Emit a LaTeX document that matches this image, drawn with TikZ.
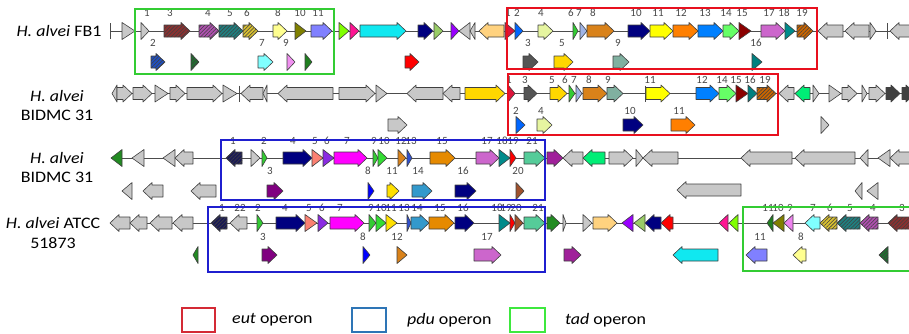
\documentclass[tikz,border=0pt]{standalone}
\usepackage{fontspec}
\setmainfont{Carlito}
\newfontfamily\widefont[FakeStretch=1.12]{Carlito}
\usetikzlibrary{patterns.meta}
\definecolor{ggray}{HTML}{C8C8C8}
\definecolor{brn}{HTML}{8B3030}
\definecolor{mag}{HTML}{B050B0}
\definecolor{tealh}{HTML}{1F8080}
\definecolor{yelh}{HTML}{D8C030}
\definecolor{lyel}{HTML}{FFFF90}
\definecolor{olive}{HTML}{808000}
\definecolor{lav}{HTML}{8080FF}
\definecolor{blueh}{HTML}{1F4FBF}
\definecolor{dgreenh}{HTML}{1F6F2F}
\definecolor{lcyan}{HTML}{80FFFF}
\definecolor{lpink}{HTML}{F090F0}
\definecolor{dgreen}{HTML}{1F7F1F}
\definecolor{lime}{HTML}{80FF00}
\definecolor{dpink}{HTML}{FF1493}
\definecolor{cyn}{HTML}{10E8F0}
\definecolor{navy}{HTML}{000080}
\definecolor{lolive}{HTML}{99CC66}
\definecolor{purp}{HTML}{9900FF}
\definecolor{red}{HTML}{FF0000}
\definecolor{lorange}{HTML}{FFD27F}
\definecolor{crim}{HTML}{DC143C}
\definecolor{blue2}{HTML}{0066FF}
\definecolor{dgray}{HTML}{555555}
\definecolor{gold}{HTML}{FFD700}
\definecolor{pyel}{HTML}{E6F5A0}
\definecolor{green3}{HTML}{33CC33}
\definecolor{lblue}{HTML}{A0B4E6}
\definecolor{obrown}{HTML}{D9821A}
\definecolor{yellow}{HTML}{FFFF00}
\definecolor{orng}{HTML}{FF7F00}
\definecolor{azure}{HTML}{0080FF}
\definecolor{lgreen}{HTML}{66FF66}
\definecolor{dred}{HTML}{8B0000}
\definecolor{orchid}{HTML}{CC66CC}
\definecolor{teal}{HTML}{008B8B}
\definecolor{tealg}{HTML}{80B0A0}
\definecolor{teal2}{HTML}{008080}
\definecolor{obrh}{HTML}{CC6600}
\definecolor{spring}{HTML}{00EE76}
\definecolor{dgrh}{HTML}{404040}
\definecolor{fgreen}{HTML}{228B22}
\definecolor{dnavy}{HTML}{1A1A55}
\definecolor{salmon}{HTML}{FA8072}
\definecolor{violet}{HTML}{8A2BE2}
\definecolor{magenta}{HTML}{FF00FF}
\definecolor{green4}{HTML}{33DD33}
\definecolor{steel}{HTML}{3399CC}
\definecolor{aqua}{HTML}{55CC99}
\definecolor{plum}{HTML}{A0209A}
\definecolor{brown2}{HTML}{A0522D}
\definecolor{purple2}{HTML}{800080}
\definecolor{blue3}{HTML}{0000FF}
\definecolor{yellow2}{HTML}{FFE000}
\definecolor{orange2}{HTML}{E68A00}
\definecolor{blue13}{HTML}{3050D0}
\definecolor{violetpink}{HTML}{EE82EE}
\definecolor{tadG}{HTML}{33CC33}
\definecolor{eutR}{HTML}{E8101E}
\definecolor{pduB}{HTML}{1F1FCF}
\definecolor{legR}{HTML}{D42A35}
\definecolor{legB}{HTML}{2E75B6}
\definecolor{legG}{HTML}{3EE83E}
\newcounter{lbc}
\newcommand\gR[5][]{%
  \pgfmathsetmacro\gx{#3-min(9,#3-#2)}%
  \draw[gene,fill=#5,#1] (#2,#4-6) -- (\gx,#4-6) -- (\gx,#4-8.5) -- (#3,#4) -- (\gx,#4+8.5) -- (\gx,#4+6) -- (#2,#4+6) -- cycle;}
\newcommand\gL[5][]{%
  \pgfmathsetmacro\gx{#2+min(9,#3-#2)}%
  \draw[gene,fill=#5,#1] (#3,#4-6) -- (\gx,#4-6) -- (\gx,#4-8.5) -- (#2,#4) -- (\gx,#4+8.5) -- (\gx,#4+6) -- (#3,#4+6) -- cycle;}
\newcommand\tR[5][]{\draw[gene,fill=#5,#1] (#2,#4-8.5) -- (#3,#4) -- (#2,#4+8.5) -- cycle;}
\newcommand\tL[5][]{\draw[gene,fill=#5,#1] (#3,#4-8.5) -- (#2,#4) -- (#3,#4+8.5) -- cycle;}
\newcommand\tk[2]{\draw[bb] (#1,#2-8) -- (#1,#2+8);}
\newcommand\lb[3]{\stepcounter{lbc}\node[lbl] (lb\arabic{lbc}) at (#1,#2) {#3};}
\begin{document}
\begin{tikzpicture}[x=1pt,y=-1pt,
  gene/.style={draw=black!75,line width=0.6pt,line join=round},
  hatch/.style={postaction={pattern={Lines[angle=45,distance=2.6pt,line width=0.55pt]},pattern color=black!75}},
  bb/.style={draw=black!70,line width=0.8pt},
  lbl/.style={font=\fontsize{11}{11}\selectfont,text=black!72,inner sep=0pt},
  sp/.style={font=\widefont\fontsize{16}{19.5}\selectfont,align=center,inner sep=0pt},
  opbox/.style={line width=2.6pt},
  legbox/.style={line width=1.6pt},
  legt/.style={font=\widefont\fontsize{16}{18}\selectfont,anchor=west,inner sep=0pt}]
\useasboundingbox (0,0) rectangle (909,333);
\fill[white] (0,0) rectangle (909,333);
% species labels
\node[sp] (s1) at (59,31) {\textit{H. alvei} FB1};
\node[sp] (s2) at (57,105.5) {\textit{H. alvei}\\BIDMC 31};
\node[sp] (s3) at (57,167.5) {\textit{H. alvei}\\BIDMC 31};
\node[sp] (s4) at (53,233) {\textit{H. alvei} ATCC\\51873};
% ---------------- Row 1 ----------------
\draw[bb] (110,31) -- (909,31);
\draw[bb] (110,23) -- (110,39);
\tR{122}{135}{31}{ggray}
\tR{141}{149}{31}{ggray}
\gR[hatch]{164}{190}{31}{brn}
\gR[hatch]{199}{219}{31}{mag}
\gR[hatch]{219}{243}{31}{tealh}
\gR[hatch]{243}{258}{31}{yelh}
\gR{273}{287}{31}{lyel}
\tR{295}{306}{31}{olive}
\gR{311}{332}{31}{lav}
\tR{339}{349}{31}{lime}
\tR{350}{359}{31}{dpink}
\gR{360}{406}{31}{cyn}
\gR{418}{433}{31}{navy}
\tR{434}{443}{31}{lolive}
\tR{451}{459}{31}{purp}
\tL{459}{470}{31}{ggray}
\tL{470}{475}{31}{ggray}
\gL{479}{504}{31}{lorange}
\tR{505}{515}{31}{crim}
\tR{515}{523}{31}{blue2}
\gR{538}{553}{31}{pyel}
\tR{573}{578}{31}{green3}
\tR{580}{587}{31}{lblue}
\gR{587}{614}{31}{obrown}
\gR{628}{650}{31}{navy}
\gR{650}{673}{31}{yellow}
\gR{673}{698}{31}{orng}
\gR{698}{723}{31}{azure}
\gR{723}{739}{31}{lgreen}
\tR{739}{751}{31}{dred}
\gR{761}{785}{31}{orchid}
\tR{785}{795}{31}{teal}
\gR[hatch]{797}{813}{31}{obrh}
\gL{818}{843}{31}{ggray}
\gL{845}{869}{31}{ggray}
\tR{870}{876}{31}{ggray}
\tk{887}{31}
\gL{890}{915}{31}{ggray}
\gR[hatch]{151}{165}{62}{blueh}
\tR[hatch]{191}{199}{62}{dgreenh}
\gR{258}{273}{62}{lcyan}
\tR{287}{295}{62}{lpink}
\tR{305}{312}{62}{dgreen}
\gR{405}{419}{62}{red}
\gR{523}{538}{62}{dgray}
\gR{554}{573}{62}{gold}
\gR{613}{629}{62}{tealg}
\tR{752}{762}{62}{teal2}
\lb{147}{13}{1}\lb{170}{13}{3}\lb{208}{13}{4}\lb{230}{13}{5}\lb{247}{13}{6}
\lb{278}{13}{8}\lb{300}{13}{10}\lb{318}{13}{11}
\lb{508}{13}{1}\lb{517}{13}{2}\lb{541}{13}{4}\lb{571}{13}{6}\lb{579}{13}{7}
\lb{593}{13}{8}\lb{636}{13}{10}\lb{658}{13}{11}\lb{681}{13}{12}\lb{705}{13}{13}
\lb{726}{13}{14}\lb{742}{13}{15}\lb{769}{13}{17}\lb{784}{13}{18}\lb{802}{13}{19}
\lb{153}{43}{2}\lb{262}{43}{7}\lb{286}{43}{9}\lb{528}{43}{3}\lb{562}{43}{5}
\lb{618}{43}{9}\lb{756}{43}{16}
% ---------------- Row 2 ----------------
\draw[bb] (112,93.5) -- (909,93.5);
\tL{112}{117}{93.5}{ggray}
\gR{117}{132}{93.5}{ggray}
\gR{133}{152}{93.5}{ggray}
\tR{155}{168}{93.5}{ggray}
\gR{170}{185}{93.5}{ggray}
\gR{187}{222}{93.5}{ggray}
\tR{223}{237}{93.5}{ggray}
\tk{239}{93.5}
\gL{241}{263}{93.5}{ggray}
\tL{263}{267}{93.5}{ggray}
\gL{278}{333}{93.5}{ggray}
\gR{339}{375}{93.5}{ggray}
\tR{376}{387}{93.5}{ggray}
\gL{407}{443}{93.5}{ggray}
\gL{443}{460}{93.5}{ggray}
\gR{465}{505}{93.5}{gold}
\tR{508}{515}{93.5}{crim}
\gR{524}{537}{93.5}{dgray}
\gR{550}{567}{93.5}{gold}
\tR{569}{575}{93.5}{green3}
\tR{576}{582}{93.5}{lblue}
\gR{583}{607}{93.5}{obrown}
\gR{607}{623}{93.5}{tealg}
\tk{645}{93.5}
\gR{646}{670}{93.5}{yellow}
\gR{696}{719}{93.5}{azure}
\gR{719}{736}{93.5}{lgreen}
\tR{736}{748}{93.5}{dred}
\tR{748}{757}{93.5}{teal2}
\gR[hatch]{757}{776}{93.5}{obrh}
\gL{779}{794}{93.5}{ggray}
\gL{795}{810}{93.5}{spring}
\tk{813}{93.5}
\tR{813}{819}{93.5}{ggray}
\tR{829}{841}{93.5}{ggray}
\gR{842}{857}{93.5}{ggray}
\tR{862}{867}{93.5}{ggray}
\gR{869}{885}{93.5}{ggray}
\gR[hatch]{886}{900}{93.5}{dgrh}
\gR[hatch]{902}{915}{93.5}{dgrh}
\gR{388}{407}{125}{ggray}
\tR{516}{525}{125}{blue2}
\gR{537}{552}{125}{pyel}
\gR{623}{643}{125}{navy}
\gR{671}{695}{125}{orng}
\tR{821}{829}{125}{ggray}
\lb{509}{80}{1}\lb{525}{80}{3}\lb{552}{80}{5}\lb{565}{80}{6}\lb{574}{80}{7}
\lb{589}{80}{8}\lb{608}{80}{9}\lb{650}{80}{11}\lb{702}{80}{12}\lb{722}{80}{14}
\lb{736}{80}{15}\lb{750}{80}{16}\lb{765}{80}{19}
\lb{516}{111}{2}\lb{541}{111}{4}\lb{630}{111}{10}\lb{679}{111}{11}
% ---------------- Row 3 ----------------
\draw[bb] (112,158) -- (909,158);
\tL{111}{122}{158}{fgreen}
\tL{132}{144}{158}{ggray}
\tL{163}{175}{158}{ggray}
\gL{175}{193}{158}{ggray}
\gL[hatch]{226}{242}{158}{dnavy}
\tR{251}{260}{158}{ggray}
\tR{262}{267}{158}{green3}
\gR{283}{312}{158}{navy}
\tR{312}{323}{158}{salmon}
\tR{323}{334}{158}{violet}
\gR{334}{367}{158}{magenta}
\tR{373}{378}{158}{green3}
\tR{378}{387}{158}{green4}
\tR{398}{406}{158}{obrown}
\tR{407}{412}{158}{blue13}
\gR{430}{455}{158}{orange2}
\gR{476}{499}{158}{orchid}
\tR{499}{510}{158}{teal}
\tR{510}{516}{158}{red}
\gR{524}{545}{158}{aqua}
\gR{547}{563}{158}{plum}
\gL{563}{583}{158}{ggray}
\gL{583}{605}{158}{spring}
\gR{609}{633}{158}{ggray}
\tR{636}{643}{158}{ggray}
\gL{643}{678}{158}{ggray}
\gL{741}{792}{158}{ggray}
\gL{795}{855}{158}{ggray}
\tL{860}{868}{158}{ggray}
\tL{878}{890}{158}{ggray}
\gL{890}{915}{158}{ggray}
\tL{122}{132}{191}{ggray}
\gL{143}{163}{191}{ggray}
\gL{191}{216}{191}{ggray}
\gR{267}{283}{191}{purple2}
\tR{368}{374}{191}{blue3}
\gR{387}{399}{191}{yellow2}
\gR{412}{432}{191}{steel}
\gR{455}{476}{191}{navy}
\tR{516}{524}{191}{brown2}
\gL{677}{741}{190}{ggray}
\tL{855}{862}{191}{ggray}
\tL{867}{878}{191}{ggray}
\lb{233}{141}{1}\lb{264}{141}{2}\lb{293}{141}{4}\lb{315}{141}{5}\lb{327}{141}{6}
\lb{347}{141}{7}\lb{374}{141}{9}\lb{384}{141}{10}\lb{401}{141}{12}\lb{411}{141}{13}
\lb{442}{141}{15}\lb{487}{141}{17}\lb{502}{141}{18}\lb{513}{141}{19}\lb{532}{141}{21}
\lb{270}{171}{3}\lb{368}{171}{8}\lb{392}{171}{11}\lb{418}{171}{14}\lb{463}{171}{16}\lb{518}{171}{20}
% ---------------- Row 4 ----------------
\draw[bb] (110,223) -- (909,223);
\gL{110}{130}{223}{ggray}
\gL{130}{147}{223}{ggray}
\gL{150}{172}{223}{ggray}
\gL{173}{193}{223}{ggray}
\gL[hatch]{211}{227}{223}{dnavy}
\gL{230}{247}{223}{ggray}
\tR{257}{263}{223}{green3}
\gR{276}{305}{223}{navy}
\tR{305}{317}{223}{salmon}
\tR{318}{328}{223}{violet}
\gR{330}{364}{223}{magenta}
\tR{369}{376}{223}{green3}
\tR{376}{386}{223}{green4}
\tR{386}{397}{223}{yellow2}
\tR{407}{411}{223}{blue13}
\gR{411}{429}{223}{steel}
\gR{429}{454}{223}{orange2}
\gR{455}{474}{223}{navy}
\tR{499}{510}{223}{teal}
\tR{510}{515}{223}{red}
\tR{515}{523}{223}{brown2}
\gR{524}{545}{223}{aqua}
\gR{547}{560}{223}{fgreen}
\tR{563}{566}{223}{ggray}
\tR{583}{592}{223}{ggray}
\gR{593}{617}{223}{lorange}
\tL{622}{633}{223}{purp}
\tL{634}{645}{223}{lolive}
\gL{645}{661}{223}{navy}
\gL{661}{673}{223}{red}
\tL{719}{728}{223}{dpink}
\tL{729}{738}{223}{lime}
\tL{767}{773}{223}{dgreen}
\tL{773}{784}{223}{olive}
\tL{784}{793}{223}{violetpink}
\gL{805}{820}{223}{lcyan}
\gL[hatch]{820}{837}{223}{yelh}
\gL[hatch]{837}{860}{223}{tealh}
\gL[hatch]{860}{878}{223}{mag}
\gL[hatch]{888}{915}{223}{brn}
\tL{193}{198}{255}{fgreen}
\gR{262}{277}{255}{purple2}
\tR{363}{370}{255}{blue3}
\tR{397}{407}{255}{obrown}
\gR{474}{501}{255}{orchid}
\gR{564}{581}{255}{plum}
\gL{673}{718}{255}{cyn}
\gL{746}{767}{255}{lav}
\gL{793}{806}{255}{lyel}
\tL[hatch]{879}{888}{255}{dgreenh}
\lb{222}{208}{1}\lb{240}{208}{22}\lb{258}{208}{2}\lb{285}{208}{4}\lb{309}{208}{5}
\lb{322}{208}{6}\lb{340}{208}{7}\lb{371}{208}{9}\lb{381}{208}{10}\lb{391}{208}{11}
\lb{404}{208}{13}\lb{417}{208}{14}\lb{440}{208}{15}\lb{463}{208}{16}\lb{497}{208}{18}
\lb{506}{208}{19}\lb{516}{208}{20}\lb{538}{208}{21}
\lb{768}{208}{11}\lb{778}{208}{10}\lb{790}{208}{9}\lb{813}{208}{7}\lb{830}{208}{6}
\lb{850}{208}{5}\lb{873}{208}{4}\lb{902}{208}{3}
\lb{263}{237}{3}\lb{363}{237}{8}\lb{397}{237}{12}\lb{487}{237}{17}\lb{760}{237}{11}\lb{801}{237}{8}
% ---------------- operon boxes ----------------
\draw[opbox,tadG] (135,9) rectangle (334,74);
\draw[opbox,eutR] (507,8) rectangle (817,69);
\draw[opbox,eutR] (508,74) rectangle (778,135);
\draw[opbox,pduB] (221,140) rectangle (545,200);
\draw[opbox,pduB] (208,207) rectangle (545,272);
\draw[opbox,tadG] (743,207) rectangle (918,271);
% ---------------- legend ----------------
\draw[legbox,legR] (182,308) rectangle (215,332);
\node[legt] (l1) at (232,320) {\textit{eut} operon};
\draw[legbox,legB] (352,308) rectangle (386,332);
\node[legt] (l2) at (407,320) {\textit{pdu} operon};
\draw[legbox,legG] (510,308) rectangle (545,332);
\node[legt] (l3) at (565,320) {\textit{tad} operon};
\end{tikzpicture}
\end{document}
